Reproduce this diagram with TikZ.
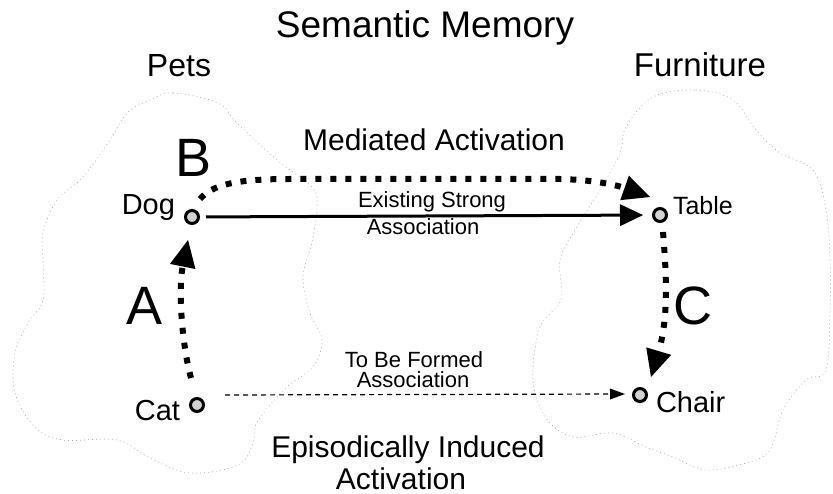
\documentclass[tikz,border=0pt]{standalone}
\usepackage{fontspec}
\setmainfont{Liberation Sans}
\usetikzlibrary{arrows.meta}
\newcommand{\fsz}[1]{\fontsize{#1pt}{#1pt}\selectfont}
\begin{document}
\begin{tikzpicture}[x=1pt,y=-1pt,
  cloudline/.style={draw=gray!70, line width=0.6pt, dash pattern=on 0.6pt off 3.4pt, line cap=round},
  concept/.style={circle, draw=black, line width=3pt, fill=gray!35, minimum size=13pt, inner sep=0pt},
  txt/.style={inner sep=0pt, outer sep=0pt, anchor=base, text=black},
  letter/.style={txt, font={\fsz{54}}},
  dotarrow/.style={line width=6pt, dash pattern=on 6pt off 9pt, -{Triangle[length=27pt,width=26pt,line width=0pt]}},
  solidarrow/.style={line width=3pt, -{Triangle[length=23pt,width=22pt,line width=0pt]}},
  dasharrow/.style={line width=1.2pt, dash pattern=on 5pt off 4pt, -{Triangle[length=15pt,width=11pt,line width=0pt]}},
]
\useasboundingbox (0,0) rectangle (833,494);
\fill[white] (0,0) rectangle (833,494);

% faint cloud outlines
\draw[cloudline] plot[smooth cycle, tension=0.6] coordinates {
 (150,100) (173,93) (218,103) (237,123) (277,160) (312,187) (317,207) (312,242)
 (303,277) (310,313) (322,340) (313,367) (287,387) (257,422) (253,443) (238,465)
 (190,473) (150,458) (117,440) (63,440) (35,427) (15,393) (15,353) (28,323)
 (43,300) (43,260) (43,233) (57,200) (83,177) (110,140) (127,113)};
\draw[cloudline] plot[smooth cycle, tension=0.6] coordinates {
 (653,97) (696,90) (733,100) (756,130) (780,153) (813,170) (826,210) (830,260)
 (830,310) (826,370) (806,380) (783,410) (770,450) (746,463) (706,470) (673,457)
 (646,447) (613,433) (573,437) (546,418) (533,380) (540,327) (561,300) (560,260)
 (575,230) (600,190) (620,153) (626,127)};

% titles
\node[txt, font={\fsz{37}}] (title) at (425,38) {Semantic Memory};
\node[txt, font={\fsz{32}}] (pets) at (179,77) {Pets};
\node[txt, font={\fsz{33}}] (furn) at (700,77) {Furniture};
\node[txt, font={\fsz{30}}] (med) at (434,151) {Mediated Activation};
\node[txt, font={\fsz{22}}] (es1) at (432,208) {Existing Strong};
\node[txt, font={\fsz{22}}] (es2) at (423,235) {Association};
\node[txt, font={\fsz{22}}] (tb1) at (414,368) {To Be Formed};
\node[txt, font={\fsz{22}}] (tb2) at (413,388) {Association};
\node[txt, font={\fsz{30}}] (ep1) at (408,457) {Episodically Induced};
\node[txt, font={\fsz{30}}] (ep2) at (401,489) {Activation};

% letters
\node[letter] (la) at (145,325) {A};
\node[letter] (lb) at (194,177) {B};
\node[letter] (lc) at (693,325) {C};

% concept nodes
\node[concept] (dog) at (192,217) {};
\node[concept] (table) at (660,215) {};
\node[concept] (cat) at (197,405) {};
\node[concept] (chair) at (640,395) {};

\node[txt, anchor=base east, font={\fsz{29}}] (doglbl) at (175,215) {Dog};
\node[txt, anchor=base east, font={\fsz{29}}] (catlbl) at (180,420) {Cat};
\node[txt, anchor=base west, font={\fsz{25}}] (tablelbl) at (673,215) {Table};
\node[txt, anchor=base west, font={\fsz{29}}] (chairlbl) at (656,412) {Chair};

% connectors
\draw[solidarrow, shorten <=6pt, shorten >=9pt] (dog) -- (table);
\draw[dotarrow] ([shift={(8,-18)}]dog.center) .. controls (212,185) and (235,179) .. (290,179)
  -- (560,179) .. controls (600,180) and (622,187) .. ([shift={(-10,-18)}]table.center);
\draw[dotarrow] ([shift={(-6,-27)}]cat.center) .. controls (182,345) and (178,290) .. ([shift={(-4,23)}]dog.center);
\draw[dotarrow] ([shift={(3,17)}]table.center) .. controls (667,280) and (668,320) .. ([shift={(11,-18)}]chair.center);
\draw[dasharrow] ([shift={(28,-10)}]cat.center) -- ([shift={(-15,-1)}]chair.center);
\end{tikzpicture}
\end{document}
